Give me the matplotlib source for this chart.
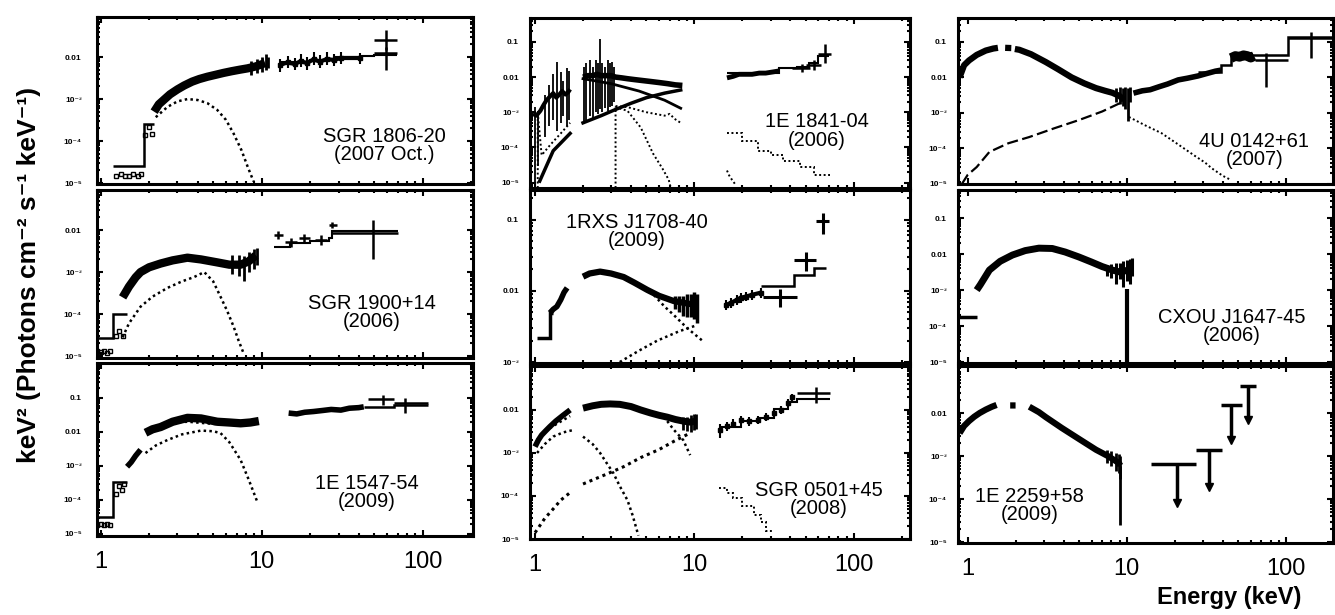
import numpy as np
import matplotlib
matplotlib.use('Agg')
import matplotlib.pyplot as plt
from matplotlib.ticker import LogLocator, NullFormatter

plt.rcParams['font.family'] = ['Liberation Sans', 'DejaVu Sans']

nan = float('nan')

# ---------------- SGR 1806-20 (2007 Oct.)
sgr1806_step_edges = [1.19, 1.85, 2.15]
sgr1806_step_vals = [2.5e-5, 2.6e-4]
sgr1806_low_e = [1.25, 1.33, 1.42, 1.5, 1.6, 1.7, 1.78, 1.9, 2.0, 2.1]
sgr1806_low_f = [1.5e-5, 1.6e-5, 1.5e-5, 1.5e-5, 1.6e-5, 1.5e-5, 1.6e-5, 1.4e-4, 2.2e-4, 1.5e-4]
sgr1806_soft_e = [2.15, 2.3, 2.5, 2.7, 3.0, 3.3, 3.7, 4.1, 4.6, 5.2, 5.8, 6.5, 7.3, 8.2, 9.2, 10.5]
sgr1806_soft_f = [5.0e-4, 7.5e-4, 1.0e-3, 1.3e-3, 1.7e-3, 2.1e-3, 2.6e-3, 3.0e-3, 3.4e-3,
                  3.8e-3, 4.2e-3, 4.6e-3, 5.0e-3, 5.4e-3, 6.0e-3, 7.2e-3]
sgr1806_noise_e = [8.6, 9.4, 10.1, 10.6, 10.9]
sgr1806_noise_lo = [3.8e-3, 4.2e-3, 4.5e-3, 5e-3, 5.5e-3]
sgr1806_noise_hi = [8e-3, 9e-3, 0.01, 0.012, 0.01]
sgr1806_hard_e = [13.0, 14.5, 16.0, 17.5, 19.0, 21.0, 23.0, 25.5, 28.0, 31.0, 41.0]
sgr1806_hard_f = [6.5e-3, 7.5e-3, 6.8e-3, 8.0e-3, 7.2e-3, 8.8e-3, 7.8e-3, 9.0e-3, 8.5e-3, 9.5e-3, 9.5e-3]
sgr1806_hard_lo = [4.5e-3, 5.5e-3, 4.8e-3, 5.8e-3, 5e-3, 6.5e-3, 5.5e-3, 6.5e-3, 6e-3, 7e-3, 7e-3]
sgr1806_hard_hi = [9e-3, 0.0105, 9.5e-3, 0.012, 0.01, 0.013, 0.011, 0.013, 0.012, 0.013, 0.0125]
sgr1806_model_edges = [13, 20, 28, 41, 50, 69]
sgr1806_model_vals = [7.5e-3, 8.5e-3, 0.0102, 0.0105, 0.011]
sgr1806_cross_e = [59, 59]
sgr1806_cross_f = [0.025, 0.0125]
sgr1806_cross_elo = [50, 50]
sgr1806_cross_ehi = [69, 69]
sgr1806_cross_flo = [0.015, 0.0049]
sgr1806_cross_fhi = [0.044, 0.017]
sgr1806_bb_e = [2.2, 2.6, 3.0, 3.46, 4.0, 4.6, 5.3, 6.0, 6.7, 7.5, 8.2, 8.9]
sgr1806_bb_f = [3.7e-4, 6.5e-4, 8.8e-4, 1.0e-3, 9.5e-4, 8.0e-4, 5.5e-4, 3.2e-4, 1.5e-4, 6.0e-5, 2.4e-5, 1.1e-5]

# ---------------- 1E 1841-04 (2006)
e1841_soft1_e = [0.97, 1.02, 1.08, 1.13, 1.18, 1.24, 1.30, 1.36, 1.42, 1.48, 1.55, 1.62, 1.66]
e1841_soft1_f = [9e-4, 8e-4, 1.1e-3, 1.6e-3, 2.2e-3, 2.8e-3, 3.5e-3, 2.6e-3, 3.2e-3, 4.0e-3, 3.2e-3, 3.8e-3, 4.5e-3]
e1841_spk1_e = [1.0, 1.05, 1.15, 1.22, 1.3, 1.37, 1.45, 1.5, 1.58, 1.63]
e1841_spk1_lo = [1e-5, 3e-5, 2e-4, 4e-4, 6e-4, 3e-4, 5e-4, 8e-4, 4e-4, 6e-4]
e1841_spk1_hi = [1.4e-3, 1.1e-3, 3e-3, 6e-3, 0.012, 0.027, 0.014, 0.008, 0.018, 0.015]
e1841_soft2_e = [2.0, 2.15, 2.3, 2.45, 2.6, 2.8, 3.0, 3.2, 3.5, 3.8, 4.2, 4.7, 5.3, 6.0, 6.8, 7.6, 8.4]
e1841_soft2_f = [0.010, 0.011, 0.011, 0.012, 0.011, 0.011, 0.011, 0.010, 0.0095, 0.009,
                 0.0085, 0.008, 0.0075, 0.007, 0.0065, 0.006, 0.0058]
e1841_spk2_e = [2.02, 2.1, 2.2, 2.3, 2.4, 2.5, 2.56, 2.65, 2.75, 2.85, 2.95, 3.05, 3.15]
e1841_spk2_lo = [5e-4, 6e-4, 8e-4, 7e-4, 1e-3, 9e-4, 1.2e-3, 1e-3, 1.3e-3, 1.1e-3, 1.4e-3, 1.5e-3, 2e-3]
e1841_spk2_hi = [0.02, 0.025, 0.03, 0.02, 0.03, 0.025, 0.12, 0.025, 0.02, 0.03, 0.025, 0.027, 0.02]
e1841_pl_e = [1.07, 1.3, 1.66, nan, 2.0, 2.6, 3.2, 4.0, 5.0, 6.5, 8.2]
e1841_pl_f = [1.1e-5, 8e-5, 2.5e-4, nan, 5e-4, 8e-4, 1.2e-3, 1.8e-3, 2.6e-3, 3.5e-3, 4.3e-3]
e1841_dec_e = [2.0, 3.0, 4.5, 6.5, 8.2]
e1841_dec_f = [9e-3, 6.5e-3, 4e-3, 2.2e-3, 1.3e-3]
e1841_dot_e = [3.2, 3.8, 5.0, 6.5, 7.0, 7.5, 8.2]
e1841_dot_f = [1.5e-3, 1.4e-3, 1.0e-3, 8e-4, 9e-4, 6.5e-4, 5e-4]
e1841_bb_e = [3.2, 3.2, 3.8, 4.6, 5.5, 6.3, 6.9, 7.1]
e1841_bb_f = [7e-6, 1.4e-3, 1.1e-3, 3.7e-4, 6.7e-5, 2.5e-5, 1.2e-5, 7e-6]
e1841_lowdot_e = [1.04, 1.04, 1.1, 1.25, 1.45, 1.66]
e1841_lowdot_f = [7e-6, 1e-3, 6e-5, 1.2e-4, 2.5e-4, 5e-4]
e1841_hard_e = [16, 17.5, 19, 21, 23, 25.5, 28, 31, 34]
e1841_hard_f = [0.0095, 0.0105, 0.012, 0.012, 0.012, 0.013, 0.013, 0.014, 0.015]
e1841_model_edges = [16, 34, 44, 52, 60, 70]
e1841_model_vals = [0.013, 0.018, 0.02, 0.026, 0.04]
e1841_cross_e = [47, 56, 66]
e1841_cross_f = [0.018, 0.022, 0.045]
e1841_cross_elo = [41, 50, 60]
e1841_cross_ehi = [53, 62, 72]
e1841_cross_flo = [0.014, 0.016, 0.025]
e1841_cross_fhi = [0.023, 0.03, 0.09]
e1841_hdot_edges = [16, 20, 25, 30, 36, 46, 56, 71]
e1841_hdot_vals = [2.5e-4, 1.5e-4, 8e-5, 6e-5, 4e-5, 2.7e-5, 1.6e-5]
e1841_hdot2_e = [16, 16.5, 17.2, 18]
e1841_hdot2_f = [2.2e-5, 1.6e-5, 1.2e-5, 9e-6]

# ---------------- 4U 0142+61 (2007)
u0142_soft_e = [0.89, 0.95, 1.02, 1.14, 1.3, 1.45, 1.55, nan, 1.72, 1.88, nan, 1.98, 2.11, 2.5,
                3.1, 3.7, 4.5, 5.4, 6.4, 7.3, 8.1, 9.0, 9.6]
u0142_soft_f = [0.01, 0.022, 0.03, 0.043, 0.057, 0.065, 0.068, nan, 0.068, 0.067, nan, 0.063, 0.06,
                0.045, 0.027, 0.017, 0.01, 6.8e-3, 5e-3, 4.2e-3, 3.7e-3, 3.0e-3, 2.3e-3]
u0142_noise_e = [8.5, 9.0, 9.5, 9.8, 10.1, 10.4]
u0142_noise_lo = [2e-3, 1.8e-3, 1.6e-3, 1.3e-3, 6e-4, 2e-3]
u0142_noise_hi = [5e-3, 5.5e-3, 5e-3, 5.5e-3, 5e-3, 5.5e-3]
u0142_pl_e = [0.92, 1.0, 1.14, 1.37, 1.8, 2.44, 3.5, 5.0, 7.0, 9.3]
u0142_pl_f = [1e-5, 1.8e-5, 3e-5, 8e-5, 1.4e-4, 2.1e-4, 3.7e-4, 6.3e-4, 1.1e-3, 2e-3]
u0142_dot_e = [10.3, 13, 16.5, 21, 27, 31, 34, 40, 45]
u0142_dot_f = [7.7e-4, 4.5e-4, 2.7e-4, 1.3e-4, 6e-5, 4e-5, 2.8e-5, 1.7e-5, 1.3e-5]
u0142_hard_e = [11, 12.5, 14, 16, 18, 21, 24, 28, 32, 36, 39]
u0142_hard_f = [3.6e-3, 4.2e-3, 4.5e-3, 5.5e-3, 6.5e-3, 8.5e-3, 9.5e-3, 0.011, 0.013, 0.015, 0.016]
u0142_blk_e = [45, 48, 51, 54, 57, 60, 63]
u0142_blk_f = [0.035, 0.04, 0.038, 0.042, 0.04, 0.036, 0.04]
u0142_step_edges = [28, 39, 45, 103, 196]
u0142_step_vals = [0.014, 0.022, 0.043, 0.14]
u0142_cross_e = [75, 143]
u0142_cross_f = [0.031, 0.13]
u0142_cross_elo = [64, 103]
u0142_cross_ehi = [103, 196]
u0142_cross_flo = [5.4e-3, 0.035]
u0142_cross_fhi = [0.049, 0.19]

# ---------------- SGR 1900+14 (2006)
s1900_step_edges = [0.92, 1.2, 1.45]
s1900_step_vals = [2.7e-5, 1e-4]
s1900_low_e = [0.95, 1.0, 1.05, 1.1, 1.15, 1.25, 1.3, 1.38]
s1900_low_f = [1.3e-5, 1.25e-5, 1.3e-5, 1.2e-5, 1.3e-5, 3e-5, 4e-5, 3e-5]
s1900_soft_e = [1.37, 1.5, 1.65, 1.77, 2.0, 2.36, 2.8, 3.46, 4.2, 5.3, 6.3, 7.4, 8.3, 9.2]
s1900_soft_f = [2.5e-4, 4.5e-4, 7.5e-4, 1e-3, 1.3e-3, 1.6e-3, 1.9e-3, 2.2e-3, 2.0e-3, 1.7e-3,
                1.5e-3, 1.5e-3, 1.8e-3, 2.5e-3]
s1900_noise_e = [6.5, 7.2, 7.8, 8.4, 9.0, 9.4]
s1900_noise_lo = [9e-4, 8e-4, 6e-4, 1e-3, 1.2e-3, 1.5e-3]
s1900_noise_hi = [2.5e-3, 2.6e-3, 2.4e-3, 3e-3, 3.5e-3, 3.8e-3]
s1900_bb_e = [1.37, 1.5, 1.77, 2.1, 2.6, 3.2, 3.8, 4.4, 5.0, 5.55, 6.1, 6.7, 7.2, 7.7]
s1900_bb_f = [2.8e-5, 6e-5, 1.5e-4, 2.6e-4, 4.2e-4, 6e-4, 7.6e-4, 1e-3, 6e-4, 2.6e-4, 1.2e-4, 5e-5, 2.3e-5, 1.2e-5]
s1900_hard_e = [12.6, 15.1, 18.3, 23.3, 27.5, 49]
s1900_hard_f = [7.6e-3, 5.2e-3, 6.4e-3, 5.8e-3, 0.013, 8.5e-3]
s1900_hard_elo = [12, 14, 17, 21.5, 26, 27.5]
s1900_hard_ehi = [13.5, 16.5, 20, 25.5, 29.5, 70]
s1900_hard_flo = [6e-3, 4e-3, 5e-3, 4.5e-3, 0.011, 2.1e-3]
s1900_hard_fhi = [9.5e-3, 6.5e-3, 8e-3, 7.5e-3, 0.016, 0.017]
s1900_model_edges = [12, 15, 20, 26, 27.5, 70]
s1900_model_vals = [4e-3, 4.8e-3, 5.5e-3, 6.5e-3, 9.5e-3]

# ---------------- 1RXS J1708-40 (2009)
r1708_step_edges = [1.03, 1.24, 1.3]
r1708_step_vals = [2.2e-3, 4.9e-3]
r1708_soft1_e = [1.24, 1.3, 1.37, 1.45, 1.52, 1.59]
r1708_soft1_f = [4.9e-3, 5.5e-3, 6.0e-3, 7.5e-3, 9.5e-3, 0.011]
r1708_soft2_e = [2.0, 2.2, 2.56, 3.0, 3.6, 4.2, 5.06, 6.0, 7.4, 8.5, 9.5, 10.4]
r1708_soft2_f = [0.0158, 0.0175, 0.0186, 0.0175, 0.0156, 0.013, 0.0103, 8.5e-3, 7.2e-3, 6.8e-3, 6.5e-3, 6.7e-3]
r1708_noise_e = [7.5, 8.0, 8.5, 9.0, 9.5, 10.0, 10.4]
r1708_noise_lo = [5.5e-3, 5e-3, 4.5e-3, 4.3e-3, 4.3e-3, 4e-3, 3.5e-3]
r1708_noise_hi = [8.5e-3, 8.5e-3, 8.5e-3, 9e-3, 9e-3, 9.5e-3, 9e-3]
r1708_dot_e = [4.5, 5.5, 6.5, 7.4, 9.0, 11.2]
r1708_dot_f = [0.0115, 9e-3, 6e-3, 4.6e-3, 3e-3, 2e-3]
r1708_pl_e = [3.4, 4.5, 5.85, 8.0, 10.4]
r1708_pl_f = [1e-3, 1.45e-3, 2e-3, 2.7e-3, 3.3e-3]
r1708_hard_e = [15.7, 17, 18.5, 19.5, 21, 23, 26]
r1708_hard_f = [6.3e-3, 6.8e-3, 7.5e-3, 8e-3, 8.3e-3, 8.8e-3, 9.4e-3]
r1708_hard_lo = [5.3e-3, 5.8e-3, 6.4e-3, 6.8e-3, 7.1e-3, 7.5e-3, 8e-3]
r1708_hard_hi = [7.4e-3, 8e-3, 8.8e-3, 9.4e-3, 9.7e-3, 0.0103, 0.011]
r1708_model_edges = [26, 42, 56, 67]
r1708_model_vals = [0.0118, 0.0168, 0.021]
r1708_cross_e = [34.5, 50, 64]
r1708_cross_f = [8.3e-3, 0.027, 0.094]
r1708_cross_elo = [27, 42, 57.6]
r1708_cross_ehi = [44, 57.6, 70]
r1708_cross_flo = [6e-3, 0.019, 0.062]
r1708_cross_fhi = [0.0105, 0.035, 0.125]

# ---------------- CXOU J1647-45 (2006)
c1647_step_edges = [0.87, 1.14]
c1647_step_vals = [1.8e-4]
c1647_soft_e = [1.14, 1.2, 1.37, 1.6, 1.91, 2.3, 2.8, 3.4, 4.1, 5.0, 6.0, 7.0, 8.1, 9.0, 10.0, 10.7]
c1647_soft_f = [1e-3, 1.4e-3, 3.6e-3, 6.3e-3, 9.4e-3, 0.0125, 0.0146, 0.0143, 0.0114, 8.3e-3,
                6e-3, 4.5e-3, 3.6e-3, 3.2e-3, 3.5e-3, 4.3e-3]
c1647_noise_e = [7.5, 8.0, 8.5, 9.0, 9.5, 10.0, 10.4, 10.7]
c1647_noise_lo = [2.5e-3, 2.2e-3, 1.5e-3, 2e-3, 1.2e-3, 1.8e-3, 1.5e-3, 2.5e-3]
c1647_noise_hi = [5e-3, 5.2e-3, 5.5e-3, 5.8e-3, 6.5e-3, 7e-3, 7.5e-3, 8e-3]
c1647_drop_e = [10.0]
c1647_drop_lo = [8e-6]
c1647_drop_hi = [1.1e-3]

# ---------------- 1E 1547-54 (2009)
x1547_step_edges = [0.92, 1.19, 1.46]
x1547_step_vals = [3.2e-5, 3.4e-4]
x1547_low_e = [0.95, 1.0, 1.05, 1.1, 1.15, 1.25, 1.3, 1.35, 1.4]
x1547_low_f = [1.8e-5, 2e-5, 1.8e-5, 2e-5, 1.8e-5, 1.5e-4, 2.5e-4, 2e-4, 3e-4]
x1547_soft1_e = [1.46, 1.55, 1.65, 1.77]
x1547_soft1_f = [9.5e-4, 1.3e-3, 2e-3, 3e-3]
x1547_soft2_e = [1.9, 2.1, 2.36, 2.8, 3.46, 4.2, 5.3, 6.3, 7.4, 8.5, 9.6]
x1547_soft2_f = [9.5e-3, 0.012, 0.014, 0.02, 0.026, 0.025, 0.02, 0.019, 0.018, 0.019, 0.021]
x1547_bb_e = [1.9, 2.2, 2.6, 3.2, 4.2, 5.0, 5.55, 6.3, 7.4, 8.3, 9.4]
x1547_bb_f = [2.4e-3, 4e-3, 5.8e-3, 8.5e-3, 0.011, 0.0105, 9.3e-3, 5e-3, 1.5e-3, 4e-4, 8.7e-5]
x1547_pl_e = [2.6, 3.5, 4.5, 5.3]
x1547_pl_f = [0.019, 0.02, 0.018, 0.017]
x1547_hard_e = [14.7, 16.5, 18.5, 21, 24, 27, 31, 35, 40, 43]
x1547_hard_f = [0.036, 0.034, 0.038, 0.04, 0.043, 0.046, 0.044, 0.05, 0.052, 0.055]
x1547_model_edges = [43, 45.5, 66, 107]
x1547_model_vals = [0.055, 0.055, 0.062]
x1547_cross_e = [56.5, 78]
x1547_cross_f = [0.093, 0.071]
x1547_cross_elo = [45.5, 66]
x1547_cross_ehi = [66, 107]
x1547_cross_flo = [0.062, 0.036]
x1547_cross_fhi = [0.12, 0.1]

# ---------------- SGR 0501+45 (2008)
s0501_soft1_e = [1.0, 1.05, 1.1, 1.17, 1.24, 1.35, 1.5, 1.66]
s0501_soft1_f = [1.4e-3, 2e-3, 2.6e-3, 3.3e-3, 4.1e-3, 5.5e-3, 7.5e-3, 0.01]
s0501_soft2_e = [2.0, 2.3, 2.6, 2.96, 3.4, 4.0, 4.6, 5.3, 6.0, 6.75, 7.6, 8.5, 9.4, 10.3]
s0501_soft2_f = [0.011, 0.0125, 0.0135, 0.0138, 0.0135, 0.012, 0.01, 8.5e-3, 7.5e-3, 6.8e-3,
                 6e-3, 5.5e-3, 5.2e-3, 5.5e-3]
s0501_noise_e = [8.5, 9.0, 9.5, 10.0, 10.3]
s0501_noise_lo = [3.5e-3, 3.2e-3, 3e-3, 3.5e-3, 3.6e-3]
s0501_noise_hi = [7e-3, 7e-3, 7.5e-3, 8e-3, 8e-3]
s0501_bb1_e = [1.03, 1.15, 1.3, 1.5, 1.73, nan, 2.0, 2.3, 2.56, 2.8, 3.1, 3.4, 3.8, 4.1, 4.45]
s0501_bb1_f = [1e-3, 1.6e-3, 2.4e-3, 3e-3, 3.4e-3, nan, 2.4e-3, 1.6e-3, 1e-3, 6e-4, 3.4e-4,
               1.7e-4, 8e-5, 3.5e-5, 1.2e-5]
s0501_bb2_e = [1.03, 1.2, 1.4, 1.66, nan, 6.75, 7.4, 8.5, 9.4]
s0501_bb2_f = [2e-3, 3.5e-3, 5e-3, 7.2e-3, nan, 5.5e-3, 3.5e-3, 2e-3, 8.9e-4]
s0501_pl_e = [1.0, 1.15, 1.3, 1.45, 1.66, nan, 2.0, 2.8, 3.6, 4.6, 6.0, 7.5, 9.4]
s0501_pl_f = [1.4e-5, 3e-5, 5e-5, 8e-5, 1.2e-4, nan, 1.9e-4, 3.2e-4, 4.8e-4, 7.8e-4, 1.2e-3, 1.9e-3, 2.9e-3]
s0501_hard_e = [14.5, 16, 17.5, 19.5, 22, 25, 28, 31.7, 35, 38.6, 41]
s0501_hard_f = [3.5e-3, 4.2e-3, 4.8e-3, 5.9e-3, 5.5e-3, 5.9e-3, 7e-3, 8.5e-3, 0.01, 0.0146, 0.02]
s0501_hard_lo = [2.2e-3, 3.2e-3, 3.8e-3, 4.6e-3, 4.3e-3, 4.6e-3, 5.5e-3, 6.8e-3, 8e-3, 0.012, 0.016]
s0501_hard_hi = [4.8e-3, 5.3e-3, 6e-3, 7.2e-3, 6.8e-3, 7.3e-3, 8.6e-3, 0.0105, 0.0125, 0.018, 0.024]
s0501_model_edges = [14.5, 19.5, 25, 31.7, 38.6, 44, 71]
s0501_model_vals = [4e-3, 5.5e-3, 6.5e-3, 0.0105, 0.015, 0.018]
s0501_cross_e = [57.6]
s0501_cross_f = [0.025]
s0501_cross_elo = [44]
s0501_cross_ehi = [71]
s0501_cross_flo = [0.0147]
s0501_cross_fhi = [0.034]
s0501_hdot_edges = [14.2, 16, 17.5, 20, 23.5, 26, 28, 31]
s0501_hdot_vals = [1.5e-4, 1.2e-4, 9e-5, 6e-5, 3.7e-5, 2.5e-5, 1.5e-5]

# ---------------- 1E 2259+58 (2009)
x2259_soft_e = [0.89, 0.95, 1.02, 1.1, 1.19, 1.3, 1.42, 1.52, nan, 1.85, 2.0, nan, 2.44, 2.8,
                3.1, 3.9, 5.0, 6.4, 7.6, 8.9, 9.1]
x2259_soft_f = [3.4e-3, 5e-3, 6.5e-3, 8.2e-3, 0.01, 0.012, 0.014, 0.0154, nan, 0.015, 0.015, nan,
                0.014, 0.0105, 8e-3, 4.5e-3, 2.5e-3, 1.4e-3, 1e-3, 6.9e-4, 6e-4]
x2259_noise_e = [7.5, 8.0, 8.5, 8.9, 9.1]
x2259_noise_lo = [7e-4, 6e-4, 4.5e-4, 4e-4, 3e-4]
x2259_noise_hi = [1.4e-3, 1.3e-3, 1.2e-3, 1.1e-3, 1e-3]
x2259_drop_e = [9.1]
x2259_drop_lo = [2.5e-5]
x2259_drop_hi = [6e-4]
x2259_ul_e = [20.5, 33, 45, 58]
x2259_ul_f = [6.5e-4, 1.38e-3, 0.0154, 0.042]
x2259_ul_elo = [14.1, 27.3, 39, 51.5]
x2259_ul_ehi = [27.3, 39.7, 53, 65]
x2259_ul_bottom = [8e-5, 1.9e-4, 2.35e-3, 6.9e-3]

# panel labels
names = ['SGR 1806-20\n(2007 Oct.)', '1E 1841-04\n(2006)', '4U 0142+61\n(2007)',
         'SGR 1900+14\n(2006)', '1RXS J1708-40\n(2009)', 'CXOU J1647-45\n(2006)',
         '1E 1547-54\n(2009)', 'SGR 0501+45\n(2008)', '1E 2259+58\n(2009)']

W, H = 1335, 615
fig = plt.figure(figsize=(W / 100, H / 100), dpi=100)

col_x = [(97, 473), (530, 910), (958, 1333)]
row_y = [[(17, 184), (190, 358), (363, 536)],
         [(18, 188), (190, 363), (366, 539)],
         [(18, 184), (190, 363), (366, 543)]]
xlims = [(0.95, 205), (0.93, 225), (0.87, 197)]
ylims = [[(0.95e-5, 0.09), (0.9e-5, 0.09), (0.87e-5, 1.07)],
         [(0.7e-5, 0.48), (0.97e-3, 0.26), (1e-5, 0.105)],
         [(1e-5, 0.47), (0.95e-5, 0.6), (0.95e-5, 0.124)]]
text_pos = [[(0.763, 0.23), (0.73, 0.27), (0.718, 0.25)],
            [(0.755, 0.335), (0.28, 0.76), (0.76, 0.23)],
            [(0.79, 0.2), (0.73, 0.21), (0.19, 0.21)]]

tick_vals = [0.1, 0.01, 1e-3, 1e-4, 1e-5]
tick_txt = ['0.1', '0.01', '10⁻³', '10⁻⁴', '10⁻⁵']

axes = {}
for c in range(3):
    for r in range(3):
        x0, x1 = col_x[c]
        y0, y1 = row_y[c][r]
        ax = fig.add_axes([x0 / W, 1 - y1 / H, (x1 - x0) / W, (y1 - y0) / H])
        ax.set_xscale('log')
        ax.set_yscale('log')
        ax.set_xlim(xlims[c])
        lo, hi = ylims[c][r]
        ax.set_ylim(lo, hi)
        keep = [i for i, v in enumerate(tick_vals) if lo * 0.9 <= v <= hi / 1.3]
        ax.set_yticks([tick_vals[i] for i in keep])
        ax.set_yticklabels([tick_txt[i] for i in keep], fontsize=6, fontweight='bold')
        ax.yaxis.set_minor_locator(LogLocator(base=10, subs=np.arange(2, 10) * 1.0, numticks=20))
        ax.yaxis.set_minor_formatter(NullFormatter())
        ax.set_xticks([1, 10, 100])
        ax.xaxis.set_minor_locator(LogLocator(base=10, subs=np.arange(2, 10) * 1.0, numticks=20))
        ax.xaxis.set_minor_formatter(NullFormatter())
        if r == 2:
            ax.set_xticklabels(['1', '10', '100'], fontsize=17)
        else:
            ax.set_xticklabels([])
        ax.tick_params(which='both', direction='in', top=True, right=True, width=1.5)
        ax.tick_params(which='major', length=4)
        ax.tick_params(which='minor', length=2.5)
        ax.tick_params(axis='x', pad=11)
        ax.tick_params(axis='y', pad=11 if c == 0 else 8)
        for sp in ax.spines.values():
            sp.set_linewidth(2.2)
        tx, ty = text_pos[c][r]
        ax.text(tx, ty, names[r * 3 + c], transform=ax.transAxes, ha='center', va='center',
                fontsize=14.5, linespacing=0.95)
        axes[(r, c)] = ax


def band(ax, e, f, lw=5):
    ax.plot(e, f, color='k', lw=lw, solid_capstyle='butt')


def comp(ax, e, f, lw=1.4):
    ax.plot(e, f, color='k', lw=lw, ls=(0, (1, 1.3)))


def spikes(ax, e, lo, hi, lw=1.3):
    ax.vlines(e, lo, hi, color='k', lw=lw)


def steps(ax, edges, vals, lw=1.8, ls='-'):
    ax.stairs(vals, edges, color='k', lw=lw, baseline=None, ls=ls)


def crosses(ax, e, f, elo, ehi, flo, fhi, lw=1.8):
    e = np.array(e)
    f = np.array(f)
    xerr = [e - np.array(elo), np.array(ehi) - e]
    yerr = [f - np.array(flo), np.array(fhi) - f]
    ax.errorbar(e, f, xerr=xerr, yerr=yerr, fmt='none', ecolor='k', elinewidth=lw)


def points(ax, e, f, lo, hi):
    f = np.array(f)
    ax.errorbar(e, f, yerr=[f - np.array(lo), np.array(hi) - f], fmt='s', ms=3, color='k',
                elinewidth=1.5)


# SGR 1806-20
ax = axes[(0, 0)]
steps(ax, sgr1806_step_edges, sgr1806_step_vals)
ax.plot(sgr1806_low_e, sgr1806_low_f, 's', color='k', ms=3, mfc='none', mew=1)
band(ax, sgr1806_soft_e, sgr1806_soft_f, lw=6)
spikes(ax, sgr1806_noise_e, sgr1806_noise_lo, sgr1806_noise_hi, lw=2)
points(ax, sgr1806_hard_e, sgr1806_hard_f, sgr1806_hard_lo, sgr1806_hard_hi)
band(ax, sgr1806_hard_e, sgr1806_hard_f, lw=3)
steps(ax, sgr1806_model_edges, sgr1806_model_vals, lw=1.5)
crosses(ax, sgr1806_cross_e, sgr1806_cross_f, sgr1806_cross_elo, sgr1806_cross_ehi,
        sgr1806_cross_flo, sgr1806_cross_fhi)
comp(ax, sgr1806_bb_e, sgr1806_bb_f, lw=1.8)

# 1E 1841-04
ax = axes[(0, 1)]
spikes(ax, e1841_spk1_e, e1841_spk1_lo, e1841_spk1_hi)
band(ax, e1841_soft1_e, e1841_soft1_f, lw=3)
spikes(ax, e1841_spk2_e, e1841_spk2_lo, e1841_spk2_hi)
band(ax, e1841_soft2_e, e1841_soft2_f, lw=4)
ax.plot(e1841_pl_e, e1841_pl_f, color='k', lw=2.5)
ax.plot(e1841_dec_e, e1841_dec_f, color='k', lw=2)
comp(ax, e1841_dot_e, e1841_dot_f)
comp(ax, e1841_bb_e, e1841_bb_f)
comp(ax, e1841_lowdot_e, e1841_lowdot_f)
band(ax, e1841_hard_e, e1841_hard_f, lw=3.5)
steps(ax, e1841_model_edges, e1841_model_vals, lw=1.5)
crosses(ax, e1841_cross_e, e1841_cross_f, e1841_cross_elo, e1841_cross_ehi,
        e1841_cross_flo, e1841_cross_fhi)
steps(ax, e1841_hdot_edges, e1841_hdot_vals, lw=1.4, ls=(0, (1, 1.3)))
comp(ax, e1841_hdot2_e, e1841_hdot2_f)

# 4U 0142+61
ax = axes[(0, 2)]
band(ax, u0142_soft_e, u0142_soft_f, lw=4.5)
spikes(ax, u0142_noise_e, u0142_noise_lo, u0142_noise_hi, lw=2)
ax.plot(u0142_pl_e, u0142_pl_f, color='k', lw=1.6, ls=(0, (5, 2)))
comp(ax, u0142_dot_e, u0142_dot_f)
band(ax, u0142_hard_e, u0142_hard_f, lw=4)
band(ax, u0142_blk_e, u0142_blk_f, lw=7)
steps(ax, u0142_step_edges, u0142_step_vals)
crosses(ax, u0142_cross_e, u0142_cross_f, u0142_cross_elo, u0142_cross_ehi,
        u0142_cross_flo, u0142_cross_fhi)

# SGR 1900+14
ax = axes[(1, 0)]
steps(ax, s1900_step_edges, s1900_step_vals)
ax.plot(s1900_low_e, s1900_low_f, 's', color='k', ms=3, mfc='none', mew=1)
band(ax, s1900_soft_e, s1900_soft_f, lw=6)
spikes(ax, s1900_noise_e, s1900_noise_lo, s1900_noise_hi, lw=2)
comp(ax, s1900_bb_e, s1900_bb_f, lw=1.8)
crosses(ax, s1900_hard_e, s1900_hard_f, s1900_hard_elo, s1900_hard_ehi,
        s1900_hard_flo, s1900_hard_fhi)
steps(ax, s1900_model_edges, s1900_model_vals, lw=1.5)

# 1RXS J1708-40
ax = axes[(1, 1)]
steps(ax, r1708_step_edges, r1708_step_vals, lw=2.5)
band(ax, r1708_soft1_e, r1708_soft1_f, lw=4)
band(ax, r1708_soft2_e, r1708_soft2_f, lw=4.5)
spikes(ax, r1708_noise_e, r1708_noise_lo, r1708_noise_hi, lw=2.5)
comp(ax, r1708_dot_e, r1708_dot_f, lw=1.8)
comp(ax, r1708_pl_e, r1708_pl_f, lw=1.8)
points(ax, r1708_hard_e, r1708_hard_f, r1708_hard_lo, r1708_hard_hi)
band(ax, r1708_hard_e, r1708_hard_f, lw=3)
steps(ax, r1708_model_edges, r1708_model_vals)
crosses(ax, r1708_cross_e, r1708_cross_f, r1708_cross_elo, r1708_cross_ehi,
        r1708_cross_flo, r1708_cross_fhi, lw=2.2)

# CXOU J1647-45
ax = axes[(1, 2)]
steps(ax, c1647_step_edges, c1647_step_vals, lw=2.5)
band(ax, c1647_soft_e, c1647_soft_f, lw=5)
spikes(ax, c1647_noise_e, c1647_noise_lo, c1647_noise_hi, lw=2.2)
spikes(ax, c1647_drop_e, c1647_drop_lo, c1647_drop_hi, lw=3)

# 1E 1547-54
ax = axes[(2, 0)]
steps(ax, x1547_step_edges, x1547_step_vals)
ax.plot(x1547_low_e, x1547_low_f, 's', color='k', ms=3, mfc='none', mew=1)
band(ax, x1547_soft1_e, x1547_soft1_f, lw=4)
band(ax, x1547_soft2_e, x1547_soft2_f, lw=6)
comp(ax, x1547_bb_e, x1547_bb_f, lw=1.8)
comp(ax, x1547_pl_e, x1547_pl_f, lw=1.8)
band(ax, x1547_hard_e, x1547_hard_f, lw=4)
steps(ax, x1547_model_edges, x1547_model_vals)
crosses(ax, x1547_cross_e, x1547_cross_f, x1547_cross_elo, x1547_cross_ehi,
        x1547_cross_flo, x1547_cross_fhi)

# SGR 0501+45
ax = axes[(2, 1)]
band(ax, s0501_soft1_e, s0501_soft1_f, lw=4)
band(ax, s0501_soft2_e, s0501_soft2_f, lw=5)
spikes(ax, s0501_noise_e, s0501_noise_lo, s0501_noise_hi, lw=2)
comp(ax, s0501_bb1_e, s0501_bb1_f, lw=1.8)
comp(ax, s0501_bb2_e, s0501_bb2_f, lw=1.8)
comp(ax, s0501_pl_e, s0501_pl_f, lw=2.2)
points(ax, s0501_hard_e, s0501_hard_f, s0501_hard_lo, s0501_hard_hi)
steps(ax, s0501_model_edges, s0501_model_vals, lw=1.5)
crosses(ax, s0501_cross_e, s0501_cross_f, s0501_cross_elo, s0501_cross_ehi,
        s0501_cross_flo, s0501_cross_fhi)
steps(ax, s0501_hdot_edges, s0501_hdot_vals, lw=1.4, ls=(0, (1, 1.3)))

# 1E 2259+58
ax = axes[(2, 2)]
band(ax, x2259_soft_e, x2259_soft_f, lw=4.5)
spikes(ax, x2259_noise_e, x2259_noise_lo, x2259_noise_hi, lw=2)
spikes(ax, x2259_drop_e, x2259_drop_lo, x2259_drop_hi, lw=2)
ax.hlines(x2259_ul_f, x2259_ul_elo, x2259_ul_ehi, color='k', lw=2.5)
ax.vlines(x2259_ul_e, x2259_ul_bottom, x2259_ul_f, color='k', lw=2.5)
ax.plot(x2259_ul_e, x2259_ul_bottom, 'v', color='k', ms=6)

fig.text(0.022, 0.553, 'keV² (Photons cm⁻² s⁻¹ keV⁻¹)', rotation=90, ha='center', va='center',
         fontsize=19, fontweight='bold')
fig.text(0.921, 0.028, 'Energy (keV)', ha='center', va='center', fontsize=17, fontweight='bold')

fig.savefig('out.png', dpi=100)
